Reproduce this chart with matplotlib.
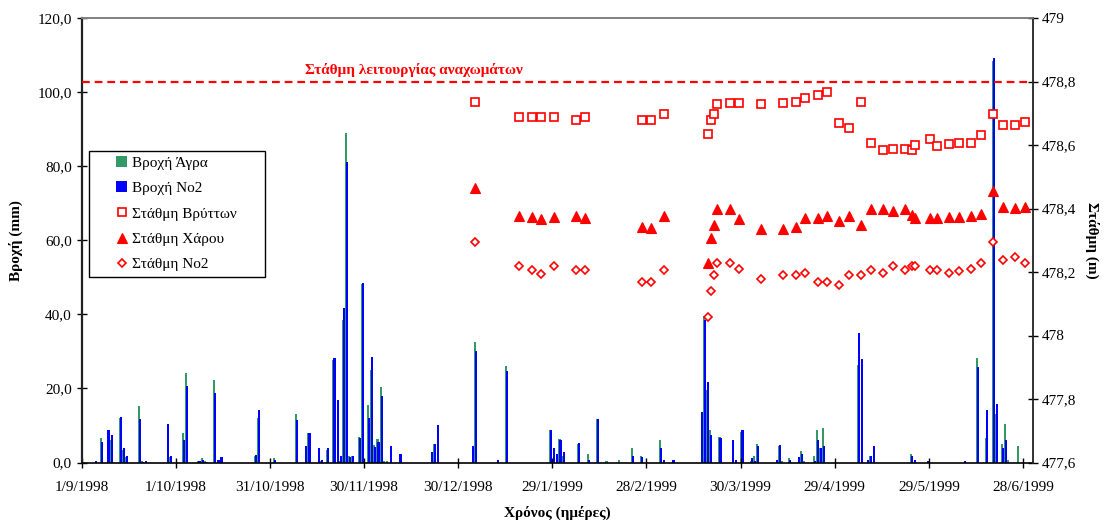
import datetime as dt
import matplotlib
matplotlib.use("Agg")
import matplotlib.pyplot as plt
from matplotlib.patches import Rectangle
from matplotlib.ticker import FuncFormatter, MultipleLocator

plt.rcParams["font.family"] = ["Liberation Serif", "DejaVu Serif"]

# ── data ─────────────────────────────────────────
start = dt.date(1998, 9, 1)

# daily rainfall (mm), day = days since 1/9/1998
rain_day = [4, 6, 8, 9, 12, 13, 14, 18, 19, 20, 27, 28, 32, 33, 37, 38, 39, 42, 43, 44,
            55, 56, 61, 68, 71, 72, 75, 76, 78, 80, 81, 82, 83, 84, 85, 86, 88, 89,
            91, 92, 93, 94, 95, 96, 97, 98, 101, 111, 112, 113, 124, 125, 132, 135,
            149, 150, 151, 152, 153, 158, 161, 164, 167, 171, 175, 178, 184, 185, 188,
            197, 198, 199, 200, 203, 207, 208, 210, 213, 214, 215, 221, 222, 223, 225,
            228, 229, 230, 233, 234, 235, 236, 247, 248, 250, 251, 252, 264, 265, 269,
            281, 285, 288, 290, 291, 293, 294, 295, 298]
rain_agra = [0, 6.7, 0, 6.0, 12.0, 3.5, 1.5, 15.2, 0.3, 0, 0, 1.5, 8.0, 24.1, 0.4, 1.1, 0.3, 22.2, 0, 0.3,
             1.8, 12.0, 1.3, 13.2, 0, 8.0, 0, 0.3, 3.3, 27.7, 0, 0.3, 38.5, 89.0, 1.7, 1.8, 7.0, 48.2,
             15.6, 25.0, 4.7, 6.4, 20.5, 0.3, 0.3, 0, 0, 0, 4.9, 0, 0, 32.5, 0, 26.0,
             8.7, 0, 0, 6.4, 1.7, 5.1, 2.4, 11.8, 0.3, 0.8, 4.0, 1.7, 6.0, 0, 0,
             0, 39.5, 19.5, 8.7, 6.9, 0, 0, 8.3, 0.3, 1.8, 5.1, 0, 4.5, 0.3, 1.1,
             0, 3.1, 0.3, 1.8, 8.7, 3.8, 9.3, 26.4, 0, 0, 1.8, 0, 2.2, 0, 0,
             0, 28.3, 6.5, 108.5, 13.2, 5.1, 10.5, 0.8, 4.4]
rain_no2 = [0.4, 5.4, 8.7, 7.4, 12.3, 3.8, 1.8, 11.7, 0.2, 0.45, 10.3, 1.8, 6.0, 20.7, 0.4, 0.7, 0.2, 18.8, 0.8, 1.5,
            2.0, 14.3, 0.6, 11.4, 4.5, 8.0, 3.8, 0.6, 3.8, 28.3, 16.8, 1.8, 41.7, 81.2, 1.5, 1.8, 6.5, 48.5,
            12.0, 28.6, 4.2, 5.4, 17.9, 0, 0, 4.4, 2.2, 2.7, 4.9, 10.0, 4.4, 30.2, 0.8, 24.7,
            8.9, 4.0, 2.4, 6.0, 2.8, 5.3, 0.8, 11.8, 0, 0, 1.7, 1.5, 3.8, 0.8, 0.8,
            13.6, 38.5, 21.7, 7.4, 6.5, 6.0, 0.8, 8.7, 1.3, 0.5, 4.5, 0.8, 4.7, 0, 0.6,
            1.5, 2.4, 0, 0.5, 6.0, 3.8, 4.5, 34.9, 28.0, 0.6, 1.8, 4.5, 1.8, 0.8, 0.45,
            0.45, 25.8, 14.3, 109.2, 15.9, 3.8, 6.0, 0, 0]

# water levels (m)
level_dates = ["1999-01-04", "1999-01-18", "1999-01-22", "1999-01-25", "1999-01-29",
               "1999-02-05", "1999-02-08", "1999-02-26", "1999-03-01", "1999-03-05",
               "1999-03-19", "1999-03-20", "1999-03-21", "1999-03-22", "1999-03-26",
               "1999-03-29", "1999-04-05", "1999-04-12", "1999-04-16", "1999-04-19",
               "1999-04-23", "1999-04-26", "1999-04-30", "1999-05-03", "1999-05-07",
               "1999-05-10", "1999-05-14", "1999-05-17", "1999-05-21", "1999-05-23",
               "1999-05-24", "1999-05-29", "1999-05-31", "1999-06-04", "1999-06-07",
               "1999-06-11", "1999-06-14", "1999-06-18", "1999-06-21", "1999-06-25",
               "1999-06-28"]
level_vrytton = [478.736, 478.688, 478.688, 478.688, 478.688, 478.679, 478.688, 478.679, 478.679, 478.699,
                 478.636, 478.678, 478.699, 478.729, 478.733, 478.733, 478.729, 478.733, 478.736, 478.748,
                 478.757, 478.767, 478.668, 478.652, 478.736, 478.605, 478.583, 478.587, 478.587, 478.584,
                 478.600, 478.619, 478.597, 478.604, 478.606, 478.607, 478.630, 478.699, 478.663, 478.663,
                 478.672]
level_charou = [478.464, 478.377, 478.374, 478.368, 478.374, 478.377, 478.370, 478.342, 478.340, 478.377,
                478.227, 478.307, 478.348, 478.399, 478.399, 478.368, 478.337, 478.337, 478.342, 478.371,
                478.369, 478.377, 478.361, 478.377, 478.348, 478.400, 478.400, 478.392, 478.400, 478.379,
                478.369, 478.369, 478.369, 478.373, 478.373, 478.377, 478.384, 478.455, 478.406, 478.403,
                478.406]
level_no2 = [478.296, 478.220, 478.207, 478.194, 478.220, 478.207, 478.207, 478.169, 478.169, 478.207,
             478.059, 478.139, 478.189, 478.227, 478.227, 478.208, 478.178, 478.189, 478.189, 478.197,
             478.169, 478.169, 478.159, 478.189, 478.189, 478.207, 478.197, 478.220, 478.207, 478.220,
             478.220, 478.207, 478.207, 478.197, 478.204, 478.209, 478.228, 478.296, 478.239, 478.246,
             478.228]
embankment_level = 478.8

tick_days = list(range(0, 301, 30))

GREEN = "#339966"
BLUE = "#0000FF"
RED = "#FF0000"

# ── figure ───────────────────────────────────────
W, H = 1104, 524
fig = plt.figure(figsize=(W / 100, H / 100), dpi=100)
ax = fig.add_axes([81.5 / W, 61.5 / H, 951 / W, 444.5 / H])
ax2 = ax.twinx()

ax.bar([d + 0.3 for d in rain_day], rain_agra, width=0.7, color=GREEN,
       linewidth=0, label="Βροχή Άγρα")
ax.bar([d + 0.62 for d in rain_day], rain_no2, width=0.7, color=BLUE,
       linewidth=0, label="Βροχή Νο2")

lvl_x = [(dt.date.fromisoformat(s) - start).days + 0.5 for s in level_dates]
ax2.plot(lvl_x, level_vrytton, ls="none", marker="s", ms=6.3, mfc="white",
         mec=RED, mew=1.2, label="Στάθμη Βρύττων")
ax2.plot(lvl_x, level_charou, ls="none", marker="^", ms=6.5, mfc=RED,
         mec=RED, mew=0.8, label="Στάθμη Χάρου")
ax2.plot(lvl_x, level_no2, ls="none", marker="D", ms=4.3, mfc="white",
         mec=RED, mew=1.2, label="Στάθμη Νο2")
ax2.axhline(embankment_level, color=RED, lw=1.6, ls=(0, (3.5, 2.2)))
ax2.text(0.3496, 0.883, "Στάθμη λειτουργίας αναχωμάτων", transform=ax.transAxes,
         color=RED, fontsize=11, fontweight="bold", ha="center", va="center")

# ── axes ─────────────────────────────────────────
ax.set_xlim(0, 303)
ax.set_ylim(0, 120)
ax2.set_ylim(477.6, 479.0)
ax.set_xticks(tick_days)
ax.set_xticklabels([
    "{0.day}/{0.month}/{0.year}".format(start + dt.timedelta(days=d)) for d in tick_days
])
ax.yaxis.set_major_locator(MultipleLocator(20))
ax.yaxis.set_major_formatter(FuncFormatter(lambda v, p: f"{v:.1f}".replace(".", ",")))
ax2.yaxis.set_major_locator(MultipleLocator(0.2))
ax2.yaxis.set_major_formatter(FuncFormatter(lambda v, p: f"{v:g}".replace(".", ",")))

for a in (ax, ax2):
    a.tick_params(direction="inout", length=7, width=1, labelsize=11, colors="black")
ax.tick_params(axis="x", pad=10)

ax.spines["left"].set_linewidth(1.6)
ax.spines["left"].set_color("#222222")
ax.spines["bottom"].set_linewidth(1.2)
ax.spines["right"].set_visible(False)
ax2.spines["left"].set_visible(False)
ax2.spines["bottom"].set_visible(False)
ax2.spines["right"].set_linewidth(1.3)
ax2.spines["right"].set_color("#222222")
for a in (ax, ax2):
    a.spines["top"].set_color("#808080")
    a.spines["top"].set_linewidth(1.2)

ax.set_ylabel("Βροχή (mm)", fontsize=11, fontweight="bold")
ax.yaxis.set_label_coords(-0.0616, 0.5)
ax2.set_ylabel("Στάθμη (m)", fontsize=11, fontweight="bold", rotation=-90, va="center")
ax2.yaxis.set_label_coords(1.0625, 0.5)
ax.set_xlabel("Χρόνος (ημέρες)", fontsize=11, fontweight="bold")
ax.xaxis.set_label_coords(0.5, -0.098)

# legend: frame drawn separately (wide Excel-style box)
frame = Rectangle((88.6 / W, 1 - 276.7 / H), (265 - 88.6) / W, 126 / H,
                  transform=fig.transFigure, facecolor="white", edgecolor="black",
                  linewidth=1.0, zorder=9, clip_on=False)
ax2.add_patch(frame)
h1, l1 = ax.get_legend_handles_labels()
h2, l2 = ax2.get_legend_handles_labels()
leg = ax2.legend(h1 + h2, l1 + l2, loc="upper left",
                 bbox_to_anchor=(116 / W, 1 - 156 / H), bbox_transform=fig.transFigure,
                 fontsize=11, frameon=False,
                 handlelength=0.72, handleheight=0.72, handletextpad=0.3,
                 labelspacing=0.76, borderpad=0, borderaxespad=0)
leg.set_zorder(10)

fig.savefig("out.png", dpi=100)
